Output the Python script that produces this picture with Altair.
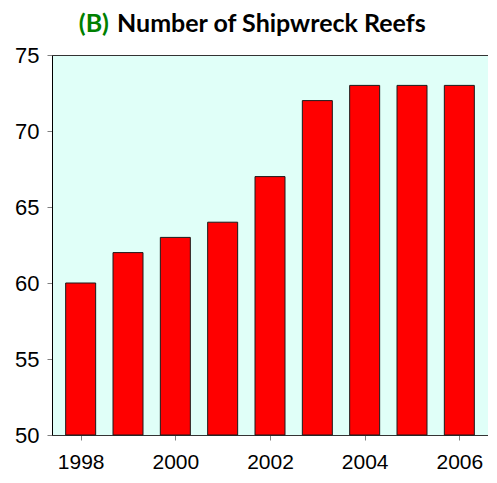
import altair as alt
import pandas as pd

years = [1998, 1999, 2000, 2001, 2002, 2003, 2004, 2005, 2006]
reefs = [60, 62, 63, 64, 67, 72, 73, 73, 73]
x_ticks = [1998, 2000, 2002, 2004, 2006]
y_ticks = [50, 55, 60, 65, 70, 75]
title_tag = ["(B)"]
title_main = ["Number of Shipwreck Reefs"]

df = pd.DataFrame({"year": years, "reefs": reefs})

axis_font = "Liberation Sans"

bars = alt.Chart(df).mark_bar(
    color="#FF0000", stroke="#1a1a1a", strokeWidth=1, size=30
).encode(
    x=alt.X(
        "year:Q",
        scale=alt.Scale(domain=[1997.5, 2006.5], nice=False, zero=False),
        axis=alt.Axis(
            values=x_ticks, format="d", title=None, grid=False,
            labelFontSize=21, labelFont=axis_font, labelColor="black",
            tickColor="#808080", tickSize=5, domainColor="#333333",
            labelPadding=11, labelFlush=False,
        ),
    ),
    y=alt.Y(
        "reefs:Q",
        scale=alt.Scale(domain=[50, 75], nice=False, zero=False),
        axis=alt.Axis(
            values=y_ticks, title=None, grid=False,
            labelFontSize=22, labelFont=axis_font, labelColor="black",
            tickColor="#808080", tickSize=5, domainColor="#000000",
            labelPadding=8,
        ),
    ),
    y2=alt.datum(50),
)

tag = alt.Chart(pd.DataFrame({"t": title_tag})).mark_text(
    align="right", baseline="alphabetic", fontSize=25, fontWeight="bold",
    font="Comic Sans MS, Lato", color="#008000"
).encode(x=alt.value(57), y=alt.value(-23), text="t:N")

main = alt.Chart(pd.DataFrame({"t": title_main})).mark_text(
    align="left", baseline="alphabetic", fontSize=25, fontWeight="bold",
    font="Comic Sans MS, Lato", color="#000000"
).encode(x=alt.value(65), y=alt.value(-23), text="t:N")

chart = alt.layer(bars, tag, main).properties(
    width=436, height=380,
    autosize=alt.AutoSizeParams(type="none"),
    padding={"left": 44, "top": 47, "right": 0, "bottom": 39},
    background="white",
).configure_view(
    fill="#E0FFF8", stroke="#333333", strokeWidth=1
)

chart.save("out.html", embed_options={"renderer": "svg", "actions": False})
